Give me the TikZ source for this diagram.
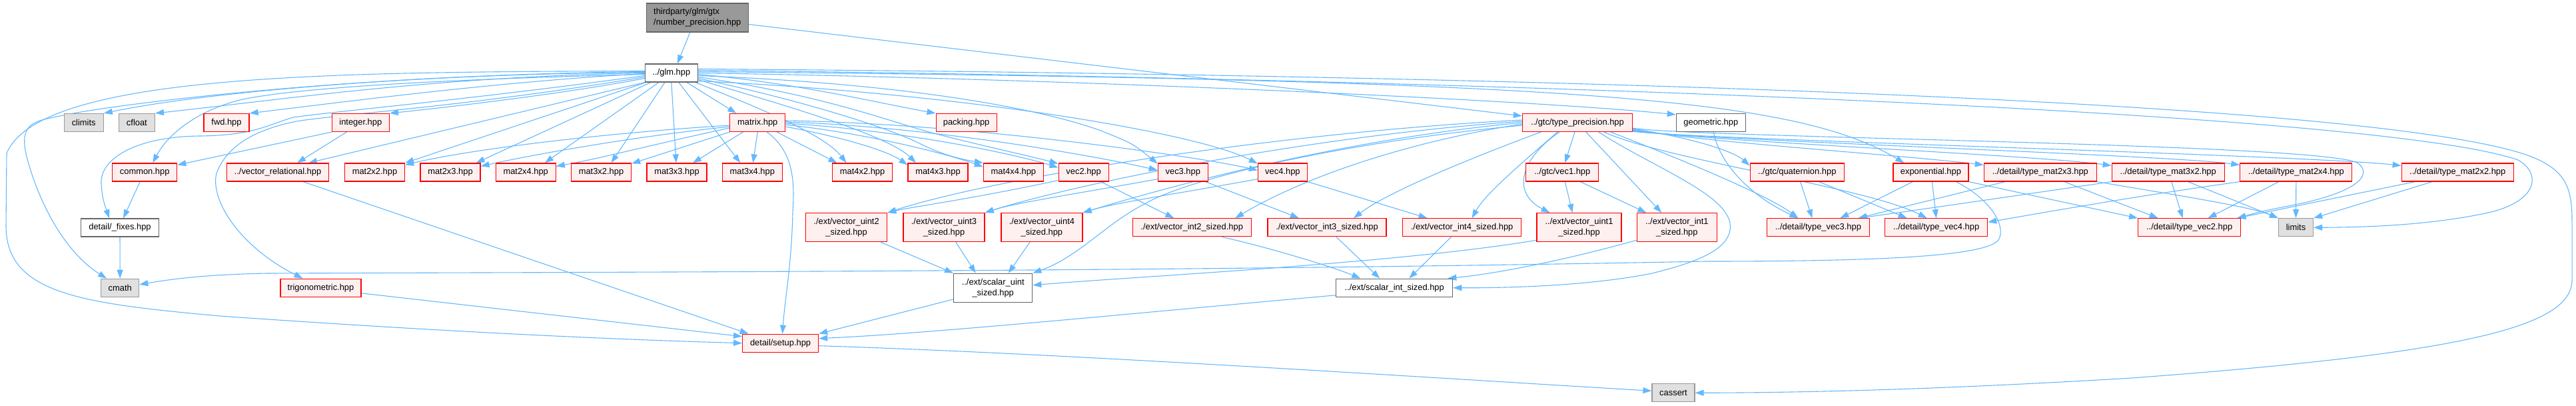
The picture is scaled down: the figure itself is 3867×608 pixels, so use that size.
\documentclass[tikz,border=0pt]{standalone}
\usepackage{fontspec}
\setmainfont{Liberation Sans}
\usetikzlibrary{arrows.meta}
\pgfdeclarelayer{bg}
\pgfsetlayers{bg,main}
\definecolor{dxblue}{HTML}{63B8FF}
\definecolor{dxred}{HTML}{FF0000}
\definecolor{dxpink}{HTML}{FFF0F0}
\definecolor{dxgray}{HTML}{999999}
\definecolor{dxlgray}{HTML}{E0E0E0}
\definecolor{dxdark}{HTML}{666666}
\newcommand\nodefont{\fontsize{12.9}{16}\selectfont}
\tikzset{
  base/.style={rectangle, draw, line width=1.2pt, inner xsep=2pt, inner ysep=0pt, minimum height=27pt, font=\nodefont, align=center},
  rnode/.style={base, draw=dxred, fill=dxpink},
  gnode/.style={base, draw=dxgray, fill=dxlgray},
  wnode/.style={base, draw=dxdark, fill=white},
  rootnode/.style={base, draw=dxdark, fill=dxgray, align=left},
  twoline/.style={minimum height=43pt},
  edg/.style={draw=dxblue, line width=1.1pt, -{Triangle[length=13pt,width=9pt]}},
}
\begin{document}
\begin{tikzpicture}[x=1pt,y=-1pt]
\useasboundingbox (0,0) rectangle (3867,608);
% nodes
\node[rootnode, twoline, minimum width=153pt] (root) at (1046.8,26.5) {thirdparty/glm/gtx\\/number\_precision.hpp};
\node[wnode, minimum width=79pt] (glm) at (1007.9,109.5) {../glm.hpp};
\node[gnode, minimum width=59pt] (climits) at (125.7,184) {climits};
\node[gnode, minimum width=54pt] (cfloat) at (205.4,184) {cfloat};
\node[rnode, minimum width=68pt] (fwd) at (340,184) {fwd.hpp};
\node[rnode, minimum width=86pt] (integer) at (541.3,184) {integer.hpp};
\node[rnode, minimum width=83pt] (matrix) at (1137.3,184) {matrix.hpp};
\node[rnode, minimum width=91pt] (packing) at (1450.6,184) {packing.hpp};
\node[rnode, minimum width=165pt] (tp) at (2367.9,184) {../gtc/type\_precision.hpp};
\node[wnode, minimum width=104pt] (geometric) at (2568.3,184) {geometric.hpp};
\node[rnode, minimum width=97pt] (common) at (217.2,258.5) {common.hpp};
\node[rnode, minimum width=153pt] (vrel) at (417,258.5) {../vector\_relational.hpp};
\node[rnode, minimum width=90pt] (mat2x2) at (562.5,258.5) {mat2x2.hpp};
\node[rnode, minimum width=90pt] (mat2x3) at (676,258.5) {mat2x3.hpp};
\node[rnode, minimum width=90pt] (mat2x4) at (789.2,258.5) {mat2x4.hpp};
\node[rnode, minimum width=90pt] (mat3x2) at (902.5,258.5) {mat3x2.hpp};
\node[rnode, minimum width=90pt] (mat3x3) at (1016,258.5) {mat3x3.hpp};
\node[rnode, minimum width=90pt] (mat3x4) at (1129.3,258.5) {mat3x4.hpp};
\node[rnode, minimum width=90pt] (mat4x2) at (1294.6,258.5) {mat4x2.hpp};
\node[rnode, minimum width=90pt] (mat4x3) at (1408,258.5) {mat4x3.hpp};
\node[rnode, minimum width=90pt] (mat4x4) at (1521.4,258.5) {mat4x4.hpp};
\node[rnode, minimum width=75pt] (vec2) at (1626.6,258.5) {vec2.hpp};
\node[rnode, minimum width=75pt] (vec3) at (1775.8,258.5) {vec3.hpp};
\node[rnode, minimum width=74pt] (vec4) at (1925.4,258.5) {vec4.hpp};
\node[rnode, minimum width=109pt] (vec1) at (2345.3,258.5) {../gtc/vec1.hpp};
\node[rnode, minimum width=141pt] (quat) at (2697.6,258.5) {../gtc/quaternion.hpp};
\node[rnode, minimum width=113pt] (expo) at (2898.4,258.5) {exponential.hpp};
\node[rnode, minimum width=169pt] (tmAB) at (3062.8,258.5) {../detail/type\_mat2x3.hpp};
\node[rnode, minimum width=169pt] (tmBA) at (3254.7,258.5) {../detail/type\_mat3x2.hpp};
\node[rnode, minimum width=168pt] (tmAC) at (3446.8,258.5) {../detail/type\_mat2x4.hpp};
\node[rnode, minimum width=168pt] (tmAA) at (3689.2,258.5) {../detail/type\_mat2x2.hpp};
\node[wnode, minimum width=117pt] (fixes) at (180,341.5) {detail/\_fixes.hpp};
\node[rnode, twoline, minimum width=122pt] (vu2) at (1270.6,341.2) {./ext/vector\_uint2\\\_sized.hpp};
\node[rnode, twoline, minimum width=122pt] (vu3) at (1417,341.2) {./ext/vector\_uint3\\\_sized.hpp};
\node[rnode, twoline, minimum width=122pt] (vu4) at (1563.9,341.2) {./ext/vector\_uint4\\\_sized.hpp};
\node[rnode, minimum width=178pt] (vi2) at (1789.2,341.3) {./ext/vector\_int2\_sized.hpp};
\node[rnode, minimum width=178pt] (vi3) at (1992,341.3) {./ext/vector\_int3\_sized.hpp};
\node[rnode, minimum width=178pt] (vi4) at (2194.6,341.3) {./ext/vector\_int4\_sized.hpp};
\node[rnode, twoline, minimum width=127pt] (vu1) at (2370.5,341.2) {../ext/vector\_uint1\\\_sized.hpp};
\node[rnode, twoline, minimum width=120pt] (vi1) at (2517.3,341.2) {../ext/vector\_int1\\\_sized.hpp};
\node[rnode, minimum width=154pt] (tvec3) at (2729.4,341.3) {../detail/type\_vec3.hpp};
\node[rnode, minimum width=154pt] (tvec4) at (2906.6,341.3) {../detail/type\_vec4.hpp};
\node[rnode, minimum width=154pt] (tvec2) at (3286.6,341.3) {../detail/type\_vec2.hpp};
\node[gnode, minimum width=52pt] (limits) at (3446.5,341.3) {limits};
\node[gnode, minimum width=57pt] (cmath) at (180.2,431.8) {cmath};
\node[rnode, minimum width=121pt] (trig) at (481.5,431.8) {trigonometric.hpp};
\node[wnode, twoline, minimum width=118pt] (suint) at (1490.7,431.8) {../ext/scalar\_uint\\\_sized.hpp};
\node[wnode, minimum width=175pt] (sint) at (2093.2,431.7) {../ext/scalar\_int\_sized.hpp};
\node[rnode, minimum width=114pt] (setup) at (1171.6,514.7) {detail/setup.hpp};
\node[gnode, minimum width=64pt] (cassert) at (2512,589.3) {cassert};

\begin{pgfonlayer}{bg}
% root
\draw[edg] ([xshift=-11pt]root.south) -- ([xshift=9pt]glm.north);
\draw[edg] ([yshift=-10pt]root.east) -- ([yshift=-4pt]tp.north west);

% glm to the left
\draw[edg] ([yshift=3pt]glm.west) .. controls (500,108) and (60,110) .. (10,230) -- (9,340) .. controls (10,440) and (120,455) .. (330,474) .. controls (700,500) and (950,510) .. (setup.west);
\draw[edg] ([yshift=1pt]glm.west) .. controls (500,112) and (150,160) .. (90,174) .. controls (50,182) and (28,185) .. (40,235) .. controls (60,310) and (100,380) .. ([xshift=-20pt]cmath.north);
\draw[edg] ([yshift=-4pt]glm.west) .. controls (700,150) and (520,165) .. (440,176) .. controls (400,188) and (380,203) .. (300,204) .. controls (200,205) and (150,240) .. (152,275) .. controls (153,300) and (160,315) .. ([xshift=-16pt]fixes.north);
\draw[edg] ([yshift=-6pt]glm.west) .. controls (700,160) and (520,170) .. (445,182) .. controls (380,195) and (340,220) .. (325,260) .. controls (315,300) and (360,370) .. ([xshift=-27pt]trig.north);
\draw[edg] ([yshift=2pt]glm.west) .. controls (600,112) and (300,140) .. (climits.north east);
\draw[edg] (glm.west) .. controls (650,115) and (420,150) .. (cfloat.north east);
\draw[edg] ([yshift=-1pt]glm.west) .. controls (750,122) and (500,155) .. (fwd.north east);
\draw[edg] ([yshift=-8pt]glm.west) .. controls (850,140) and (680,160) .. (integer.north east);
\draw[edg] ([yshift=-2pt]glm.west) .. controls (700,118) and (450,130) .. (360,150) .. controls (290,168) and (250,205) .. ([xshift=12pt]common.north);
\draw[edg] (glm.south west) -- ([xshift=46pt]vrel.north);
\draw[edg] ([xshift=2pt]glm.south west) -- (mat2x2.north east);
\draw[edg] ([xshift=-31pt]glm.south) -- ([xshift=-7pt]mat2x3.north east);
\draw[edg] ([xshift=-19pt]glm.south) -- ([xshift=-17pt]mat2x4.north east);
\draw[edg] ([xshift=-10pt]glm.south) -- ([xshift=15pt]mat3x2.north);
\draw[edg] (glm.south) -- ([xshift=-1pt]mat3x3.north);
\draw[edg] ([xshift=11pt]glm.south) -- ([xshift=-18pt]mat3x4.north);
\draw[edg] ([xshift=23pt]glm.south) -- ([xshift=-32pt]matrix.north);
\draw[edg] ([xshift=36pt]glm.south) .. controls (1160,170) and (1240,205) .. ([xshift=-24pt]mat4x2.north);

% glm to the right
\draw[edg] ([yshift=-2pt]glm.east) .. controls (1200,125) and (1320,155) .. (packing.north west);
\draw[edg] ([yshift=-10pt]glm.east) .. controls (1150,150) and (1330,200) .. ([xshift=-33pt]mat4x3.north);
\draw[edg] ([yshift=-8pt]glm.east) .. controls (1200,150) and (1330,190) .. (1380,215) .. controls (1420,235) and (1450,240) .. (mat4x4.north west);
\draw[edg] ([yshift=-6pt]glm.east) .. controls (1250,145) and (1340,185) .. (1410,202) .. controls (1480,220) and (1550,235) .. ([yshift=-1pt]vec2.north west);
\draw[edg] ([yshift=-4pt]glm.east) .. controls (1350,125) and (1550,160) .. (1650,195) .. controls (1700,215) .. ([yshift=-1pt]vec3.north west);
\draw[edg] ([yshift=-12pt]glm.east) .. controls (1450,140) and (1800,200) .. ([yshift=-1pt]vec4.north west);
\draw[edg] (glm.east) .. controls (1600,118) and (2300,150) .. ([yshift=-2pt]geometric.north west);
\draw[edg] ([yshift=2pt]glm.east) .. controls (2400,120) and (2700,150) .. ([xshift=-40pt]expo.north);
\draw[edg] ([yshift=4pt]glm.east) .. controls (2000,115) and (3550,160) .. (3780,240) .. controls (3815,260) and (3810,300) .. (3740,318) .. controls (3650,338) and (3550,341) .. (limits.east);
\draw[edg] ([yshift=6pt]glm.east) .. controls (2000,110) and (3550,140) .. (3800,235) .. controls (3850,255) and (3861,280) .. (3861,330) -- (3861,420) .. controls (3861,490) and (3700,530) .. (3200,567) .. controls (2900,585) and (2700,589) .. (cassert.east);

% matrix
\draw[edg] ([yshift=-4pt]matrix.west) .. controls (900,200) and (700,225) .. ([yshift=-3pt]mat2x2.north east);
\draw[edg] ([yshift=-6pt]matrix.west) .. controls (950,205) and (800,232) .. ([yshift=-5pt]mat2x3.north east);
\draw[edg] ([yshift=-8pt]matrix.west) .. controls (1000,212) and (900,238) .. ([yshift=-5pt]mat2x4.north east);
\draw[edg] (matrix.south west) -- ([yshift=-1pt]mat3x2.north east);
\draw[edg] ([xshift=-22pt]matrix.south) -- ([xshift=24pt]mat3x3.north);
\draw[edg] (matrix.south) -- ([xshift=1pt]mat3x4.north);
\draw[edg] ([xshift=29pt]matrix.south) -- ([xshift=-38pt]mat4x2.north);
\draw[edg] ([yshift=-6pt]matrix.east) .. controls (1260,205) and (1330,225) .. ([yshift=-3pt]mat4x3.north west);
\draw[edg] ([yshift=-3pt]matrix.east) .. controls (1300,200) and (1420,230) .. ([yshift=-6pt]mat4x4.north west);
\draw[edg] ([yshift=-1pt]matrix.east) .. controls (1350,195) and (1520,230) .. ([yshift=-7pt]vec2.north west);
\draw[edg] ([yshift=1pt]matrix.east) .. controls (1400,190) and (1650,235) .. ([yshift=-11pt]vec3.north west);
\draw[edg] ([yshift=3pt]matrix.east) .. controls (1450,185) and (1800,235) .. ([yshift=-11pt]vec4.north west);
\draw[edg] ([xshift=14pt]matrix.south) .. controls (1195,230) and (1192,280) .. (1190,320) .. controls (1188,400) and (1178,450) .. ([xshift=3pt]setup.north);

% vec2/3/4
\draw[edg] ([yshift=2pt]vec2.south west) .. controls (1450,300) and (1370,310) .. (vu2.north east);
\draw[edg] ([xshift=26pt]vec2.south) -- ([xshift=-27pt]vi2.north);
\draw[edg] ([yshift=4pt]vec3.south west) .. controls (1620,290) and (1520,305) .. (vu3.north east);
\draw[edg] ([xshift=34pt]vec3.south) -- ([xshift=-42pt]vi3.north);
\draw[edg] ([yshift=4pt]vec4.south west) .. controls (1770,290) and (1670,305) .. (vu4.north east);
\draw[edg] (vec4.south east) -- ([xshift=-52pt]vi4.north);

% type_precision
\draw[edg] ([xshift=-4pt]tp.south) -- ([xshift=4pt]vec1.north);
\draw[edg] ([xshift=-27pt]tp.south) .. controls (2280,240) and (2270,290) .. ([xshift=-44pt]vu1.north);
\draw[edg] ([xshift=13pt]tp.south) -- ([xshift=-23pt]vi1.north);
\draw[edg] ([yshift=-4pt]tp.west) .. controls (2000,215) and (1780,270) .. (1720,305) .. controls (1660,335) and (1620,385) .. (suint.north east);
\draw[edg] ([xshift=32pt]tp.south) .. controls (2480,250) and (2590,290) .. (2597,335) .. controls (2603,375) and (2540,395) .. (2480,410) .. controls (2380,430) and (2250,432) .. (sint.east);
\draw[edg] ([yshift=4pt]tp.west) .. controls (1900,200) and (1480,270) .. (vu2.north east);
\draw[edg] ([yshift=2pt]tp.west) .. controls (1950,205) and (1600,280) .. (vu3.north east);
\draw[edg] (tp.west) .. controls (2000,210) and (1720,290) .. (vu4.north east);
\draw[edg] ([yshift=-2pt]tp.west) .. controls (2100,215) and (1950,270) .. ([xshift=65pt]vi2.north);
\draw[edg] ([xshift=-55pt]tp.south) .. controls (2200,240) and (2080,290) .. ([xshift=40pt]vi3.north);
\draw[edg] ([xshift=-30pt]tp.south) .. controls (2290,240) and (2230,290) .. ([xshift=15pt]vi4.north);
\draw[edg] ([yshift=5pt]tp.south east) .. controls (2530,205) and (2600,225) .. ([yshift=-4pt]quat.north west);
\draw[edg] ([yshift=4pt]tp.south east) .. controls (2540,212) and (2850,232) .. ([yshift=-3pt]tmAB.north west);
\draw[edg] ([yshift=3pt]tp.south east) .. controls (2540,211) and (3050,232) .. ([yshift=-4pt]tmBA.north west);
\draw[edg] ([yshift=2pt]tp.south east) .. controls (2540,210) and (3250,232) .. ([yshift=-3pt]tmAC.north west);
\draw[edg] ([yshift=1pt]tp.south east) .. controls (2540,209) and (3450,232) .. ([yshift=-4pt]tmAA.north west);
\draw[edg] ([yshift=6pt]tp.south east) .. controls (2540,207) and (3500,215) .. (3540,245) .. controls (3565,265) and (3530,292) .. (3430,310) .. controls (3395,317) .. ([xshift=-6pt]tvec2.north east);
\draw[edg] ([xshift=50pt]tp.south) .. controls (2500,230) and (2650,290) .. ([xshift=-30pt]tvec3.north);
\draw[edg] ([xshift=40pt]tp.south) .. controls (2500,240) and (2800,280) .. ([xshift=-14pt]tvec4.north);

% geometric, quaternion, exponential
\draw[edg] ([xshift=4pt]geometric.south) .. controls (2580,240) and (2620,290) .. ([xshift=-30pt]tvec3.north);
\draw[edg] ([xshift=5pt]quat.south) -- ([xshift=-9pt]tvec3.north);
\draw[edg] ([xshift=33pt]quat.south) -- ([xshift=-44pt]tvec4.north);
\draw[edg] ([xshift=-27pt]expo.south) -- ([xshift=33pt]tvec3.north);
\draw[edg] ([xshift=2pt]expo.south) -- (tvec4.north);
\draw[edg] (expo.south east) -- (tvec2.north west);
\draw[edg] ([xshift=38pt]expo.south) .. controls (2990,300) and (3012,340) .. (3000,360) .. controls (2980,386) and (2800,392) .. (2560,392) .. controls (1800,407) and (1000,408) .. (400,410) .. controls (300,412) and (250,420) .. ([yshift=5pt]cmath.east);

% type_mat
\draw[edg] ([xshift=-53pt]tmAB.south) -- ([xshift=60pt]tvec3.north);
\draw[edg] ([xshift=36pt]tmAB.south) -- ([xshift=-47pt]tvec2.north);
\draw[edg] (tmAB.south east) .. controls (3250,290) and (3380,310) .. (limits.north west);
\draw[edg] (tmBA.south west) .. controls (3050,290) and (2900,312) .. ([xshift=-17pt]tvec3.north east);
\draw[edg] ([xshift=5pt]tmBA.south) -- ([xshift=-10pt]tvec2.north);
\draw[edg] ([xshift=30pt]tmBA.south) -- (limits.north west);
\draw[edg] (tmAC.south west) .. controls (3200,295) and (3050,322) .. ([yshift=-6pt]tvec4.north east);
\draw[edg] ([xshift=-26pt]tmAC.south) -- ([xshift=28pt]tvec2.north);
\draw[edg] (tmAC.south) -- (limits.north);
\draw[edg] ([xshift=-64pt]tmAA.south) -- ([xshift=-6pt]tvec2.north east);
\draw[edg] ([xshift=-38pt]tmAA.south) -- (limits.north east);

% vec1
\draw[edg] ([xshift=4pt]vec1.south) -- ([xshift=-10pt]vu1.north);
\draw[edg] ([xshift=27pt]vec1.south) -- ([xshift=-46pt]vi1.north);

% sized vectors to scalars
\draw[edg] ([xshift=-10pt]vu2.south east) -- (suint.north west);
\draw[edg] ([xshift=18pt]vu3.south) -- ([xshift=-26pt]suint.north);
\draw[edg] ([xshift=-18pt]vu4.south) -- ([xshift=23pt]suint.north);
\draw[edg] ([yshift=3pt]vu1.south west) .. controls (2100,395) and (1700,415) .. ([yshift=4pt]suint.east);
\draw[edg] ([xshift=45pt]vi2.south) .. controls (1900,370) and (2000,400) .. ([xshift=-51pt]sint.north);
\draw[edg] ([xshift=14pt]vi3.south) -- ([xshift=-22pt]sint.north);
\draw[edg] ([xshift=-16pt]vi4.south) -- ([xshift=22pt]sint.north);
\draw[edg] ([yshift=3pt]vi1.south west) .. controls (2350,390) and (2250,410) .. ([xshift=-8pt]sint.north east);

% scalars, setup, misc
\draw[edg] ([yshift=5pt]suint.south west) -- (setup.north east);
\draw[edg] ([yshift=3pt]sint.south west) .. controls (1700,470) and (1400,500) .. ([yshift=7pt]setup.east);
\draw[edg] ([yshift=-4pt]setup.east) .. controls (1600,530) and (2200,570) .. ([yshift=3pt]cassert.west);
\draw[edg] (fixes) -- (cmath);
\draw[edg] ([xshift=-7pt]common.south) -- ([xshift=5pt]fixes.north);
\draw[edg] (integer.south west) -- ([yshift=-3pt]common.north east);
\draw[edg] ([xshift=-21pt]integer.south) -- ([xshift=29pt]vrel.north);
\draw[edg] ([xshift=38pt]vrel.south) -- ([xshift=-48pt]setup.north);
\draw[edg] ([yshift=-8pt]trig.east) -- ([yshift=10pt]setup.west);
\end{pgfonlayer}
\end{tikzpicture}
\end{document}
